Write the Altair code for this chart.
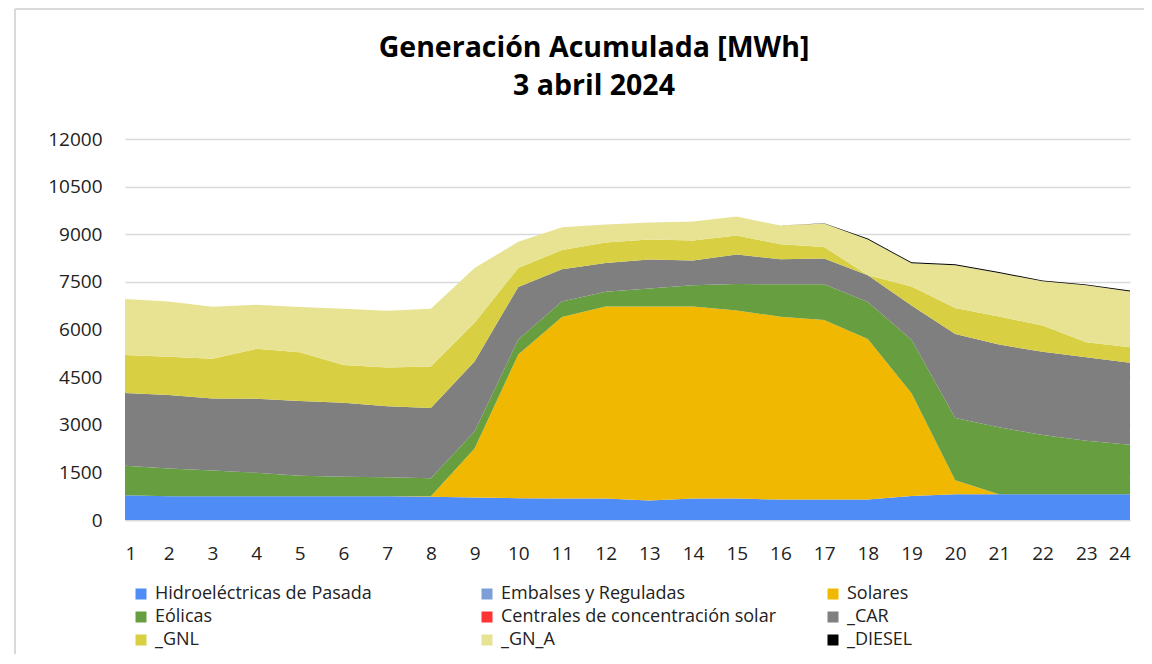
import altair as alt
import pandas as pd

hours = list(range(1, 25))

series_names = [
    "Hidroeléctricas de Pasada",
    "Embalses y Reguladas",
    "Solares",
    "Eólicas",
    "Centrales de concentración solar",
    "_CAR",
    "_GNL",
    "_GN_A",
    "_DIESEL",
]
series_colors = [
    "#4F8CF6", "#7C9FD9", "#F0B800", "#669E40", "#FF3333",
    "#7F7F7F", "#D8CF42", "#E8E393", "#000000",
]

hidro = [780, 750, 750, 750, 750, 750, 750, 735, 707, 685, 675, 675,
         612, 675, 675, 644, 644, 644, 758, 812, 812, 812, 812, 812]
embalses = [0] * 24
solares = [0, 0, 0, 0, 0, 0, 0, 15, 1548, 4525, 5715, 6052,
           6115, 6052, 5925, 5756, 5653, 5053, 3233, 442, 0, 0, 0, 0]
eolicas = [925, 870, 810, 735, 640, 610, 600, 567, 535, 475, 495, 463,
           568, 663, 834, 1022, 1125, 1168, 1684, 1958, 2106, 1863, 1683, 1557]
concentracion = [0] * 24
car = [2295, 2320, 2270, 2335, 2360, 2335, 2230, 2213, 2200, 1655, 1010, 907,
       906, 780, 925, 793, 811, 840, 1083, 2643, 2609, 2621, 2633, 2580]
gnl = [1200, 1200, 1245, 1570, 1535, 1190, 1220, 1302, 1222, 598, 612, 641,
       632, 631, 600, 470, 369, 0, 600, 821, 884, 831, 474, 495]
gn_a = [1760, 1745, 1642, 1390, 1422, 1770, 1790, 1818, 1726, 822, 715, 569,
        537, 600, 600, 590, 736, 1128, 727, 1346, 1370, 1389, 1788, 1756]
diesel = [0] * 16 + [10, 30, 30, 30, 30, 30, 30, 30]

y_ticks = [0, 1500, 3000, 4500, 6000, 7500, 9000, 10500, 12000]

title_lines = ["Generación Acumulada [MWh]", "3 abril 2024"]

all_series = [hidro, embalses, solares, eolicas, concentracion, car, gnl, gn_a, diesel]

rows = []
for idx, (name, vals) in enumerate(zip(series_names, all_series)):
    for h, v in zip(hours, vals):
        rows.append({"hora": h, "serie": name, "valor": v, "orden": idx})
df = pd.DataFrame(rows)

FONT = "Open Sans"

area = alt.Chart(df).mark_area(interpolate="linear", strokeWidth=0).encode(
    x=alt.X("hora:Q",
            scale=alt.Scale(domain=[1, 24], nice=False, zero=False),
            axis=alt.Axis(values=hours, format="d", title=None, grid=False,
                          ticks=False, domain=True, domainColor="#D9D9D9",
                          domainWidth=1.5, labelPadding=24, labelFontSize=19,
                          labelFont=FONT, labelColor="#222222")),
    y=alt.Y("valor:Q", stack="zero",
            scale=alt.Scale(domain=[0, 12000], nice=False),
            axis=alt.Axis(values=y_ticks, format="d", title=None, grid=True,
                          gridColor="#D9D9D9", gridWidth=1.5, ticks=False,
                          domain=False, labelPadding=23, labelFontSize=19,
                          labelFont=FONT, labelColor="#222222")),
    color=alt.Color("serie:N",
                    scale=alt.Scale(domain=series_names, range=series_colors),
                    legend=alt.Legend(title=None, orient="none", legendX=7, legendY=446,
                                      direction="horizontal",
                                      columns=3, columnPadding=47, rowPadding=5,
                                      gridAlign="all", symbolType="square",
                                      symbolSize=121, symbolStrokeWidth=0,
                                      labelFontSize=18, labelFont=FONT,
                                      labelColor="#222222", labelLimit=600,
                                      labelOffset=5)),
    order=alt.Order("orden:Q", sort="ascending"),
)

frame_df = pd.DataFrame({"k": [0]})
left_border = alt.Chart(frame_df).mark_rule(color="#D9D9D9", strokeWidth=2).encode(
    x=alt.value(-110), y=alt.value(-130), y2=alt.value(560))
top_border = alt.Chart(frame_df).mark_rule(color="#D9D9D9", strokeWidth=2).encode(
    x=alt.value(-110), x2=alt.value(1040), y=alt.value(-130))

title1 = alt.Chart(frame_df).mark_text(
    text=title_lines[0], font=FONT, fontSize=28.5, fontWeight="bold", color="#000000",
    align="center", baseline="alphabetic").encode(x=alt.value(469), y=alt.value(-82))
title2 = alt.Chart(frame_df).mark_text(
    text=title_lines[1], font=FONT, fontSize=28.5, fontWeight="bold", color="#000000",
    align="center", baseline="alphabetic").encode(x=alt.value(469), y=alt.value(-44))

chart = alt.layer(left_border, top_border, title1, title2, area).properties(
    width=1005,
    height=381,
    autosize=alt.AutoSizeParams(type="none"),
    padding={"left": 117, "top": 131, "right": 14, "bottom": 134},
).configure_view(stroke=None)

chart.save("out.html", embed_options={"renderer": "svg", "actions": False})
